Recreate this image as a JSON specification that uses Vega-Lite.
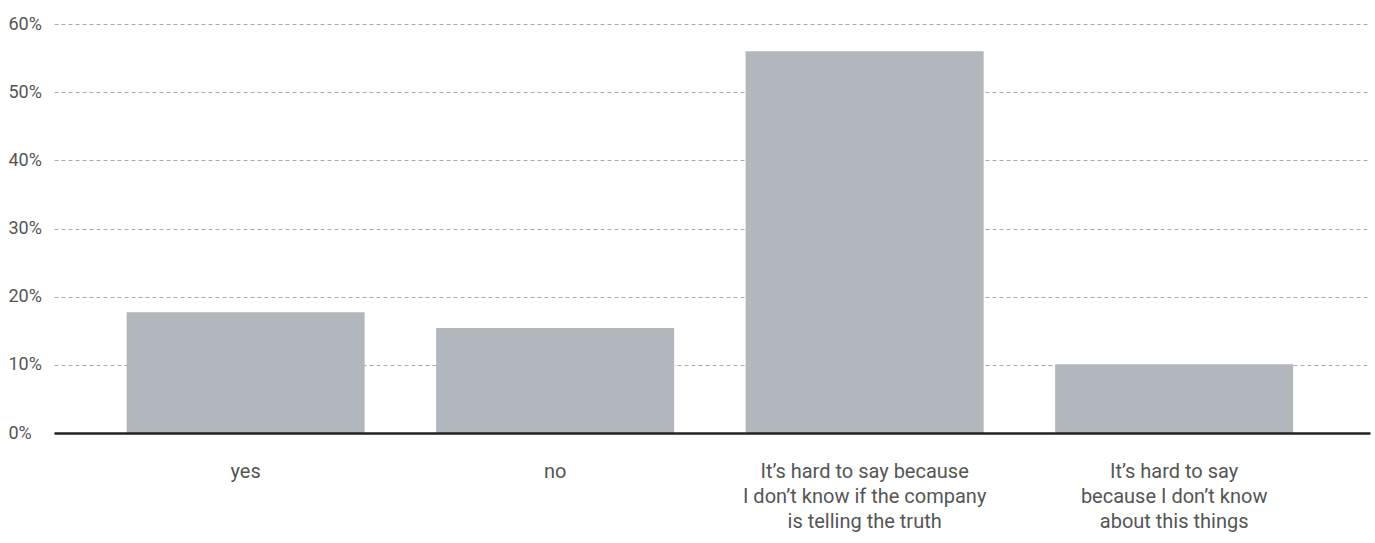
{
  "$schema": "https://vega.github.io/schema/vega-lite/v6.json",
  "width": 1316,
  "height": 409,
  "autosize": {"type": "none"},
  "padding": {"left": 54, "top": 24, "right": 5, "bottom": 110},
  "background": "#ffffff",
  "config": {
    "view": {"stroke": null},
    "font": "Roboto",
    "axis": {"labelFont": "Roboto", "labelColor": "#555555"}
  },
  "data": {
    "values": [
      {"answer": "yes", "share": 17.7},
      {"answer": "no", "share": 15.4},
      {"answer": "It’s hard to say because|I don’t know if the company|is telling the truth", "share": 56.0},
      {"answer": "It’s hard to say|because I don’t know|about this things", "share": 10.1}
    ]
  },
  "mark": {"type": "bar", "color": "#b2b6bd"},
  "encoding": {
    "x": {
      "field": "answer",
      "type": "nominal",
      "sort": null,
      "scale": {"paddingInner": 0.231, "paddingOuter": 0.2415, "align": 0.486},
      "axis": {
        "title": null,
        "labelAngle": 0,
        "ticks": false,
        "labelPadding": 28,
        "labelFontSize": 20,
        "labelLineHeight": 25,
        "labelLimit": 0,
        "labelExpr": "split(datum.label, '|')",
        "domainColor": "#222222",
        "domainWidth": 2.5,
        "zindex": 1
      }
    },
    "y": {
      "field": "share",
      "type": "quantitative",
      "scale": {"domain": [0, 60], "nice": false},
      "axis": {
        "title": null,
        "values": [0, 10, 20, 30, 40, 50, 60],
        "labelExpr": "datum.value + '%'",
        "labelAlign": "left",
        "labelPadding": 46,
        "labelFontSize": 18,
        "ticks": false,
        "tickSize": 0,
        "domain": false,
        "grid": true,
        "gridColor": "#aaaaaa",
        "gridDash": [4, 3],
        "gridWidth": 1,
        "zindex": 0
      }
    }
  }
}
